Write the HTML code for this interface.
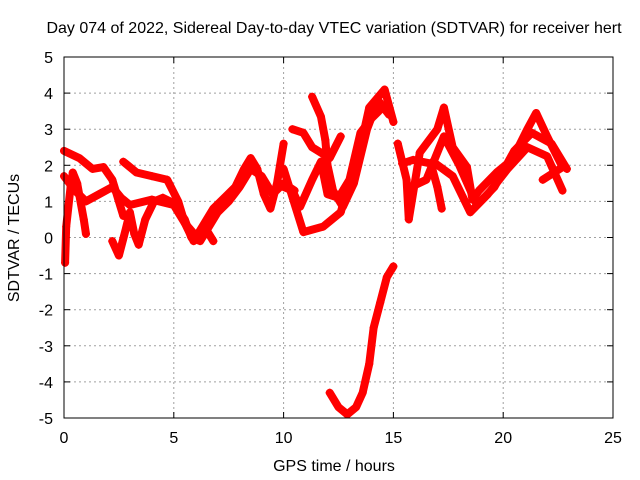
<!DOCTYPE html>
<html><head><meta charset="utf-8"><style>
body{margin:0;background:#fff;}
svg{display:block;font-family:"Liberation Sans",sans-serif;}
</style></head><body>
<svg id="chart" width="640" height="480">
<text x="334" y="33" font-size="16" text-anchor="middle">Day 074 of 2022, Sidereal Day-to-day VTEC variation (SDTVAR) for receiver hert</text>
<text x="334" y="471" font-size="16" text-anchor="middle">GPS time / hours</text>
<text x="19" y="238" font-size="16" text-anchor="middle" transform="rotate(-90 19 238)">SDTVAR / TECUs</text>
<g id="grid"></g>
<g id="ticks"></g>
<g id="data"></g>
<rect x="64" y="57" width="549" height="361" fill="none" stroke="#000" stroke-width="1"/>
</svg>
<script>
const xTicks=[0,5,10,15,20,25];
const yTicks=[-5,-4,-3,-2,-1,0,1,2,3,4,5];
const track1=[[0,2.4],[0.7,2.2],[1.3,1.9],[1.8,1.95],[2.2,1.6],[2.5,1.0],[2.7,0.6]];
const track2=[[0,1.7],[0.5,1.3],[1,1.0],[1.6,1.2],[2.2,1.4],[2.6,1.1],[3,0.9],[4,1.05],[5,0.9],[5.5,0.4],[6,0.05],[6.5,0.2],[7,0.7],[7.5,1.0],[8,1.4],[8.5,1.9],[9,1.7],[9.5,1.2],[10,1.5],[10.5,1.3]];
const track3=[[2.7,2.1],[3.3,1.8],[4,1.7],[4.7,1.6],[5.2,1.0],[5.5,0.4],[5.9,-0.1],[6.3,0.3],[6.8,0.8],[7.3,1.1],[7.8,1.4],[8.2,1.9],[8.5,2.2],[8.8,1.9],[9.1,1.2],[9.4,0.8],[9.7,1.5],[10,2.6]];
const track4=[[0.05,-0.7],[0.1,0.3],[0.3,1.4],[0.4,1.8],[0.6,1.5],[0.9,0.5],[1.0,0.1]];
const track5=[[2.2,-0.1],[2.5,-0.5],[2.8,0.2],[3.0,0.7],[3.2,0.1],[3.4,-0.2],[3.7,0.5],[4.1,1.0],[4.5,1.1],[5,0.95],[5.5,0.5],[5.8,0],[6.2,-0.1],[6.5,0.2],[6.8,-0.1]];
const track6=[[12.1,-4.3],[12.5,-4.7],[12.9,-4.9],[13.3,-4.7],[13.6,-4.3],[13.9,-3.5],[14.1,-2.5],[14.4,-1.8],[14.7,-1.1],[15,-0.8]];
const track7=[[10,1.9],[10.9,0.15],[11.8,0.3],[12.6,0.7],[13.5,2.5],[13.9,3.6],[14.6,4.1],[15,3.2]];
const track8=[[10.4,3.0],[10.9,2.9],[11.3,2.5],[12.1,2.2],[12.6,2.8]];
const track9=[[11.3,3.9],[11.7,3.35],[11.9,2.7],[12,2.0],[12.25,1.3],[12.7,0.85],[13.2,1.5],[13.8,3.0],[14.3,3.8],[14.8,3.4]];
const track10=[[10,1.4],[10.4,1.3],[10.75,0.85],[11.3,1.6],[11.7,2.1],[12,1.2],[12.5,1.1],[13,1.6],[13.5,2.9],[14,3.3],[14.5,3.6]];
const track11=[[15.2,2.6],[15.6,1.6],[15.7,0.5],[16.2,2.35],[17,3.0],[17.3,3.6],[17.7,2.5],[18.35,1.95],[18.6,1.05],[18.9,1.3],[19.7,1.8],[20.4,2.15],[21.1,3.0],[21.5,3.45],[22,2.8],[22.7,1.95],[21.8,1.6]];
const track12=[[15.4,2.05],[15.9,2.15],[16.7,2.05],[17,1.4],[17.2,0.8]];
const track13=[[16.8,2.1],[17.7,1.7],[18.5,0.7],[19.3,1.2],[20.2,1.9],[21.1,2.5],[22,2.25],[22.7,1.3]];
const track14=[[15.8,1.4],[16.5,1.6],[17.3,2.8],[18,2.0],[18.8,0.9],[19.6,1.4],[20.5,2.4],[21.3,2.9],[22.2,2.6],[22.9,1.9]];
const tracks=[track1,track2,track3,track4,track5,track6,track7,track8,track9,track10,track11,track12,track13,track14];
const X=h=>64+h*(549/25);
const Y=v=>237.5-v*36.1;
const NS='http://www.w3.org/2000/svg';
const grid=document.getElementById('grid'),ticks=document.getElementById('ticks'),data=document.getElementById('data');
function mk(tag,attrs,parent){const e=document.createElementNS(NS,tag);for(const k in attrs)e.setAttribute(k,attrs[k]);parent.appendChild(e);return e;}
xTicks.forEach(t=>{
 if(t>0&&t<25){const l=mk('line',{x1:X(t),x2:X(t),y1:57,y2:418,stroke:'#a0a0a0','stroke-dasharray':'2,3'},grid);
 
 }
 const tl=mk('text',{x:X(t),y:443,'font-size':16,'text-anchor':'middle'},ticks);tl.textContent=t;
 
 
 mk('line',{x1:X(t),x2:X(t),y1:418,y2:412,stroke:'#000'},ticks);
 mk('line',{x1:X(t),x2:X(t),y1:57,y2:63,stroke:'#000'},ticks);
});
yTicks.forEach(t=>{
 if(t>-5&&t<5){const l=mk('line',{x1:64,x2:613,y1:Y(t),y2:Y(t),stroke:'#a0a0a0','stroke-dasharray':'2,3'},grid);
 
 }
 const tl=mk('text',{x:53,y:Y(t)+6,'font-size':16,'text-anchor':'end'},ticks);tl.textContent=t;
 
 
 mk('line',{x1:64,x2:70,y1:Y(t),y2:Y(t),stroke:'#000'},ticks);
 mk('line',{x1:613,x2:607,y1:Y(t),y2:Y(t),stroke:'#000'},ticks);
});
tracks.forEach((tr,i)=>{
 const p=mk('polyline',{points:tr.map(d=>X(d[0])+','+Y(d[1])).join(' '),fill:'none',stroke:'#ff0000','stroke-width':8,'stroke-linejoin':'round','stroke-linecap':'round'},data);
 
 
 tr.forEach(d=>{
  const g=mk('path',{d:'M'+(X(d[0])-4)+' '+Y(d[1])+'h8M'+X(d[0])+' '+(Y(d[1])-4)+'v8',stroke:'#ff0000','stroke-width':1.5},data);
  
  
 });
});
</script>
</body></html>
